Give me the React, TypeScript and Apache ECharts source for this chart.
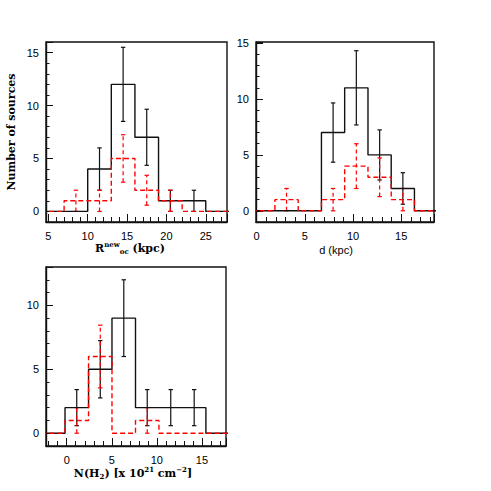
import React, { useEffect, useRef } from "react";
import * as echarts from "echarts";

// ---------- Panel 1: R_gc^new (kpc) ----------
const rEdges = [1, 4, 7, 10, 13, 16, 19, 22, 25, 28];
const rAll = [0, 0, 0, 4, 12, 7, 1, 1, 0];
const rSub = [0, 0, 1, 1, 5, 2, 1, 0, 0];
const rAllErrX = [11.5, 14.5, 17.5, 20.5, 23.5];
const rAllErrLo = [2, 8.5, 4.35, 0, 0];
const rAllErrHi = [6, 15.5, 9.65, 2, 2];
const rSubErrX = [8.5, 11.5, 14.5, 17.5, 20.5];
const rSubErrLo = [0, 0, 2.76, 0.59, 0];
const rSubErrHi = [2, 2, 7.24, 3.41, 2];

// ---------- Panel 2: d (kpc) ----------
const dEdges = [-0.52, 1.89, 4.31, 6.72, 9.13, 11.55, 13.96, 16.37, 18.79];
const dAll = [0, 0, 0, 7, 11, 5, 2, 0];
const dSub = [0, 1, 0, 1, 4, 3, 1, 0];
const dAllErrX = [7.93, 10.34, 12.76, 15.17];
const dAllErrLo = [4.35, 7.68, 2.76, 0.59];
const dAllErrHi = [9.65, 14.32, 7.24, 3.41];
const dSubErrX = [3.1, 7.93, 10.34, 12.76, 15.17];
const dSubErrLo = [0, 0, 2, 1.27, 0];
const dSubErrHi = [2, 2, 6, 4.73, 2];

// ---------- Panel 3: N(H2) [x 10^21 cm^-2] ----------
const nEdges = [-2.8, -0.19, 2.42, 5.02, 7.63, 10.23, 12.84, 15.44, 18.05];
const nAll = [0, 2, 5, 9, 2, 2, 2, 0];
const nSub = [0, 1, 6, 0, 1, 0, 0, 0];
const nAllErrX = [1.11, 3.72, 6.33, 8.93, 11.54, 14.14];
const nAllErrLo = [0.59, 2.76, 6, 0.59, 0.59, 0.59];
const nAllErrHi = [3.41, 7.24, 12, 3.41, 3.41, 3.41];
const nSubErrX = [1.11, 3.72, 8.93];
const nSubErrLo = [0, 3.55, 0];
const nSubErrHi = [2, 8.45, 2];

// axis ranges
const xRanges = [
  [4.7, 27.7],
  [-0.07, 18.4],
  [-2.3, 17.67],
];
const yRanges = [
  [-1, 16],
  [-1, 15.1],
  [-1, 13],
];

const BLACK = "#111";
const RED = "#ff0000";
const SERIF = '"DejaVu Serif"';
const SANS = '"Liberation Sans"';

function steps(edges: number[], counts: number[]) {
  const pts: number[][] = [];
  counts.forEach((c, i) => {
    pts.push([edges[i], c]);
    pts.push([edges[i + 1], c]);
  });
  return pts;
}

function histSeries(edges: number[], counts: number[], gi: number, color: string, dashed: boolean) {
  return {
    type: "line",
    xAxisIndex: gi,
    yAxisIndex: gi,
    data: steps(edges, counts),
    symbol: "none",
    showSymbol: false,
    clip: true,
    silent: true,
    lineStyle: { color, width: 1.4, type: dashed ? [5, 3] : "solid" },
  };
}

function errSeries(xs: number[], lo: number[], hi: number[], gi: number, color: string, dashed: boolean) {
  return {
    type: "custom",
    xAxisIndex: gi,
    yAxisIndex: gi,
    silent: true,
    data: xs.map((x, i) => [x, lo[i], hi[i]]),
    encode: { x: 0, y: [1, 2] },
    renderItem: (params: any, api: any) => {
      const x = api.value(0);
      const p1 = api.coord([x, api.value(1)]);
      const p2 = api.coord([x, api.value(2)]);
      const cap = 2.2;
      const vStyle: any = { stroke: color, lineWidth: 1.2, fill: null };
      if (dashed) vStyle.lineDash = [4, 3];
      const cStyle = { stroke: color, lineWidth: 1.2, fill: null };
      return {
        type: "group",
        children: [
          { type: "line", shape: { x1: p1[0], y1: p1[1], x2: p2[0], y2: p2[1] }, style: vStyle },
          { type: "line", shape: { x1: p1[0] - cap, y1: p1[1], x2: p1[0] + cap, y2: p1[1] }, style: cStyle },
          { type: "line", shape: { x1: p2[0] - cap, y1: p2[1], x2: p2[0] + cap, y2: p2[1] }, style: cStyle },
        ],
      };
    },
  };
}

function xAxisCfg(gi: number) {
  return {
    type: "value",
    gridIndex: gi,
    min: xRanges[gi][0],
    max: xRanges[gi][1],
    splitNumber: 4,
    minInterval: 5,
    maxInterval: 5,
    axisLine: { show: true, onZero: false, lineStyle: { color: BLACK, width: 1.4 } },
    axisTick: { show: true, inside: true, length: 8, lineStyle: { color: BLACK, width: 1 } },
    minorTick: { show: true, splitNumber: 5, length: 5, lineStyle: { color: BLACK, width: 1 } },
    minorSplitLine: { show: false },
    splitLine: { show: false },
    axisLabel: {
      showMinLabel: false,
      showMaxLabel: false,
      color: "#000",
      fontSize: 11,
      fontFamily: SANS,
      margin: 8,
    },
  };
}

function yAxisCfg(gi: number) {
  return {
    type: "value",
    gridIndex: gi,
    min: yRanges[gi][0],
    max: yRanges[gi][1],
    splitNumber: 3,
    minInterval: 5,
    maxInterval: 5,
    axisLine: { show: true, onZero: false, lineStyle: { color: BLACK, width: 1.4 } },
    axisTick: { show: true, inside: true, length: 7, lineStyle: { color: BLACK, width: 1 } },
    minorTick: { show: true, splitNumber: 5, length: 3.5, lineStyle: { color: BLACK, width: 1 } },
    minorSplitLine: { show: false },
    splitLine: { show: false },
    axisLabel: {
      showMinLabel: false,
      showMaxLabel: false,
      color: "#000",
      fontSize: 11,
      fontFamily: SANS,
      margin: 7,
    },
  };
}

const richBase = {
  b: { fontFamily: SERIF, fontWeight: "bold", fontSize: 11, lineHeight: 14, color: "#000" },
  sup: { fontFamily: SERIF, fontWeight: "bold", fontSize: 7, lineHeight: 7, verticalAlign: "top", color: "#000" },
  sub: { fontFamily: SERIF, fontWeight: "bold", fontSize: 7, lineHeight: 7, verticalAlign: "bottom", color: "#000" },
};

export default function App() {
  const ref = useRef<HTMLDivElement>(null);
  useEffect(() => {
    if (!ref.current) return;
    const chart = echarts.init(ref.current, null, { renderer: "svg" });
    const gridBase = { show: true, borderColor: BLACK, borderWidth: 1.4, backgroundColor: "transparent", containLabel: false };
    chart.setOption({
      animation: false,
      backgroundColor: "#fff",
      grid: [
        { ...gridBase, left: 46, top: 42, width: 181, height: 180 },
        { ...gridBase, left: 256, top: 42, width: 178, height: 180 },
        { ...gridBase, left: 46, top: 267, width: 180, height: 179 },
      ],
      xAxis: [xAxisCfg(0), xAxisCfg(1), xAxisCfg(2)],
      yAxis: [yAxisCfg(0), yAxisCfg(1), yAxisCfg(2)],
      series: [
        histSeries(rEdges, rAll, 0, BLACK, false),
        errSeries(rAllErrX, rAllErrLo, rAllErrHi, 0, BLACK, false),
        histSeries(rEdges, rSub, 0, RED, true),
        errSeries(rSubErrX, rSubErrLo, rSubErrHi, 0, RED, true),

        histSeries(dEdges, dAll, 1, BLACK, false),
        errSeries(dAllErrX, dAllErrLo, dAllErrHi, 1, BLACK, false),
        histSeries(dEdges, dSub, 1, RED, true),
        errSeries(dSubErrX, dSubErrLo, dSubErrHi, 1, RED, true),

        histSeries(nEdges, nAll, 2, BLACK, false),
        errSeries(nAllErrX, nAllErrLo, nAllErrHi, 2, BLACK, false),
        histSeries(nEdges, nSub, 2, RED, true),
        errSeries(nSubErrX, nSubErrLo, nSubErrHi, 2, RED, true),
      ],
      graphic: [
        {
          type: "text",
          x: 11,
          y: 132,
          rotation: Math.PI / 2,
          style: {
            text: "Number of sources",
            textAlign: "center",
            textVerticalAlign: "middle",
            font: `bold 11px ${SERIF}`,
            fill: "#000",
          },
        },
        {
          type: "text",
          x: 130,
          y: 248,
          style: {
            text: "{b|R}{sup|new}{sub|oc}{b| (kpc)}",
            textAlign: "center",
            textVerticalAlign: "middle",
            rich: richBase,
            fill: "#000",
          },
        },
        {
          type: "text",
          x: 336,
          y: 250,
          style: {
            text: "d (kpc)",
            textAlign: "center",
            textVerticalAlign: "middle",
            font: `11px ${SANS}`,
            fill: "#000",
          },
        },
        {
          type: "text",
          x: 133,
          y: 473,
          style: {
            text: "{b|N(H}{sub|2}{b|) [x 10}{sup|21}{b| cm}{sup|−2}{b|]}",
            textAlign: "center",
            textVerticalAlign: "middle",
            rich: richBase,
            fill: "#000",
          },
        },
      ],
    });
    return () => chart.dispose();
  }, []);
  return (
    <div
      ref={ref}
      style={{ position: "absolute", left: 0, top: 0, width: 491, height: 491 }}
    />
  );
}
